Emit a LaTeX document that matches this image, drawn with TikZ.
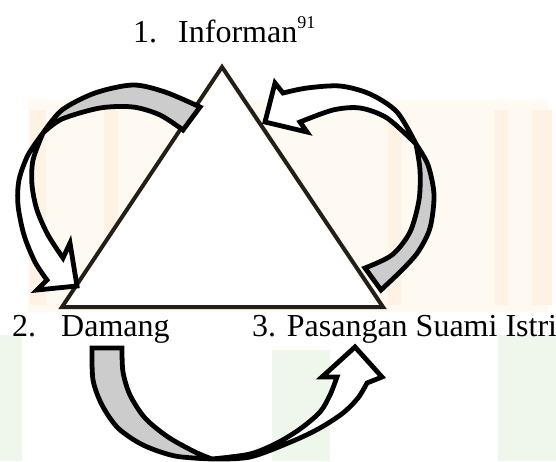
\documentclass[tikz,border=0pt]{standalone}
\usepackage{fontspec}
\setmainfont{Liberation Serif}
\definecolor{shadegray}{RGB}{204,204,204}
\definecolor{tricol}{RGB}{35,31,22}
\definecolor{wmcream}{RGB}{254,250,242}
\definecolor{wmorange}{RGB}{253,242,228}
\definecolor{wmgreen}{RGB}{239,247,236}
\begin{document}
\begin{tikzpicture}[x=1pt,y=-1pt,
  arrowline/.style={draw=black,line width=4.8pt,miter limit=6},
  backface/.style={arrowline,fill=shadegray},
  frontface/.style={arrowline,fill=white},
  lbl/.style={anchor=base west,inner sep=0pt,font=\fontsize{32}{38}\selectfont},
  wm/.style={draw=none}]
\useasboundingbox (0,0) rectangle (556,461);
% faint watermark background
\fill[wmcream] (28,100) rectangle (548,312);
\fill[wmorange] (30,110) rectangle (46,305);
\fill[wmorange] (104,110) rectangle (118,305);
\fill[wmorange] (388,110) rectangle (402,305);
\fill[wmorange] (494,110) rectangle (508,305);
\fill[wmorange] (532,110) rectangle (552,305);
\fill[wmgreen] (0,335) rectangle (22,461);
\fill[wmgreen] (272,350) rectangle (330,461);
\fill[wmgreen] (498,335) rectangle (556,461);
% triangle
\coordinate (apex) at (222,67);
\coordinate (bl) at (62,307);
\coordinate (br) at (383,307);
\draw[tricol,line width=4pt,fill=white,line join=miter] (apex) -- (bl) -- (br) -- cycle;
% left arrow: Informan -> Damang
\path[backface] plot[smooth] coordinates {(200,107) (165,92) (133,85) (95,93) (62,110) (43,133)}
  -- plot[smooth] coordinates {(43,133) (62,119) (100,108) (133,107) (160,115) (183,130)} -- cycle;
\path[frontface] plot[smooth] coordinates {(43,133) (28,155) (19,180) (18,205) (24,235) (35,262) (47,280)}
  -- (37,290) -- (77,286) -- (70,243) -- (63,258)
  -- plot[smooth] coordinates {(63,258) (48,235) (37,210) (32,185) (33,160) (43,133)} -- cycle;
% right arrow: Pasangan -> Informan
\path[backface] plot[smooth] coordinates {(381,290) (402,270) (418,252) (430,228) (434,195) (428,165) (416,144)}
  -- plot[smooth] coordinates {(416,144) (420,170) (419,200) (410,232) (392,255) (365,268)} -- cycle;
\path[frontface] plot[smooth] coordinates {(416,144) (397,112) (370,94) (340,86) (307,88) (283,93)}
  -- (275,83) -- (265,122) -- (307,132) -- (300,122)
  -- plot[smooth] coordinates {(300,122) (333,110) (360,108) (387,118) (416,144)} -- cycle;
% bottom arrow: Damang -> Pasangan
\path[backface] plot[smooth] coordinates {(92,348) (93,380) (102,405) (118,428) (143,445) (175,456) (212,459)}
  -- plot[smooth] coordinates {(212,459) (195,452) (168,437) (145,418) (130,395) (123,372) (122,348)} -- cycle;
\path[frontface] plot[smooth] coordinates {(212,459) (250,457) (293,441) (320,428) (343,413) (358,398) (367,383)}
  -- (382,377) -- (355,347) -- (322,377) -- (337,377)
  -- plot[smooth] coordinates {(337,377) (330,395) (320,412) (300,429) (277,443) (250,454) (212,459)} -- cycle;
% labels
\node[lbl] (inf) at (133,42.7) {1.\hspace{21pt}Informan\raisebox{14.5pt}{\fontsize{18}{18}\selectfont 91}};
\node[lbl] (dam) at (12,336) {2.\hspace{25pt}Damang};
\node[lbl] (pas) at (252,336) {3. Pasangan Suami Istri};
\end{tikzpicture}
\end{document}
